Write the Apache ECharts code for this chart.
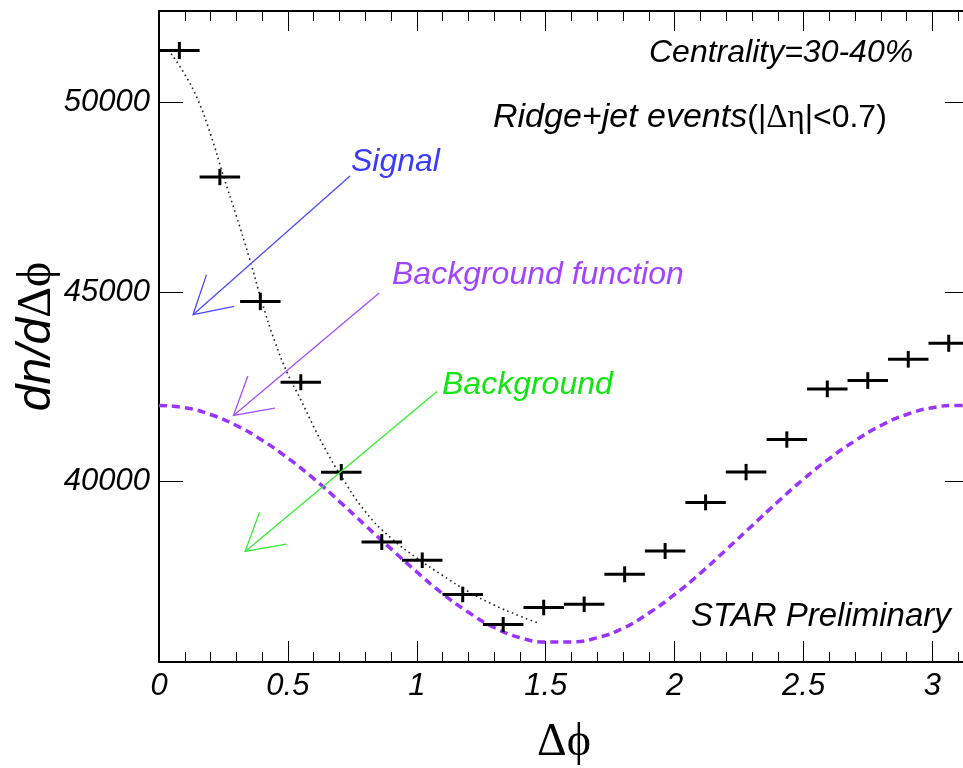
<!DOCTYPE html>
<html><head><meta charset="utf-8">
<script src="https://cdn.jsdelivr.net/npm/echarts@6/dist/echarts.min.js"></script>
<style>html,body{margin:0;padding:0;background:#fff}#c{width:963px;height:768px}</style>
</head><body><div id="c"></div>
<script>
// ---- data ----
const dphi = [0.079, 0.236, 0.393, 0.550, 0.707, 0.864, 1.021, 1.178, 1.335, 1.492,
              1.649, 1.806, 1.963, 2.120, 2.277, 2.435, 2.592, 2.749, 2.906, 3.063];
const dndphi = [51360, 48025, 44750, 42620, 40250, 38410, 37930, 37030, 36235, 36685,
                36770, 37560, 38175, 39455, 40253, 41110, 42445, 42665, 43225, 43647];
const dndphiErr = [225, 215, 230, 210, 215, 210, 205, 205, 200, 205,
                   205, 210, 210, 210, 215, 215, 220, 220, 220, 225];
const binHalfWidth = 0.0785;

const signalX = [0.047, 0.10, 0.15, 0.20, 0.25, 0.30, 0.35, 0.40, 0.45, 0.50, 0.55,
                 0.60, 0.65, 0.70, 0.80, 0.90, 1.00, 1.10, 1.20, 1.30, 1.40, 1.478];
const signalY = [51275, 50730, 50070, 49150, 48050, 47000, 45900, 44720, 43680, 42830, 42160,
                 41450, 40800, 40220, 39215, 38515, 37990, 37530, 37105, 36750, 36460, 36259];

const bgFuncX = [0, 0.1, 0.2, 0.3, 0.4, 0.5, 0.6, 0.7, 0.8, 0.9, 1.0, 1.1, 1.2, 1.3, 1.4, 1.5,
                 1.6, 1.7, 1.8, 1.9, 2.0, 2.1, 2.2, 2.3, 2.4, 2.5, 2.6, 2.7, 2.8, 2.9, 3.0, 3.1, 3.1416];
const bgFuncY = [42010, 41950, 41770, 41480, 41090, 40620, 40080, 39480, 38850, 38230, 37620,
                 37050, 36560, 36160, 35890, 35780, 35780, 35890, 36140, 36540, 37030, 37590,
                 38210, 38840, 39470, 40070, 40610, 41080, 41480, 41770, 41950, 42010, 42010];

const xMin = 0, xMax = 3.1416;
const yMin = 35250, yMax = 52400;
const xTickLabels = [0, 0.5, 1, 1.5, 2, 2.5, 3];
const yTickLabels = [40000, 45000, 50000];

// arrows: [tailX, tailY, tipX, tipY]
const arrowNames = ['Signal', 'Background function', 'Background'];
const arrowTail = [[0.741, 48051], [0.854, 44968], [1.078, 42379]];
const arrowTip  = [[0.132, 44399], [0.289, 41747], [0.334, 38164]];
const arrowColors = ['#4a4aff', '#a64dff', '#33ee33'];

// ---- chart ----
const chart = echarts.init(document.getElementById('c'), null, {renderer: 'canvas'});
const SANS = 'Liberation Sans, Arial, sans-serif';
const SERIF = 'Liberation Serif, DejaVu Serif, Times New Roman, serif';

function xAxisCfg(pos) {
  const bottom = pos === 'bottom';
  return {
    type: 'value', position: pos, min: xMin, max: xMax, interval: 0.5,
    axisLine: {show: true, onZero: false, lineStyle: {color: '#000', width: 2}},
    axisTick: {show: true, inside: true, length: bottom ? 21 : 20, customValues: xTickLabels,
               lineStyle: {color: '#000', width: 1}},
    minorTick: {show: true, splitNumber: 5, length: 10, lineStyle: {color: '#000', width: 1}},
    axisLabel: {show: bottom, customValues: xTickLabels, margin: 9, fontSize: 31, fontStyle: 'italic',
                fontFamily: SANS, color: '#000', formatter: v => String(v)},
    splitLine: {show: false}, minorSplitLine: {show: false},
    name: bottom ? 'Δϕ' : '', nameLocation: 'middle', nameGap: 58, nameMoveOverlap: false,
    nameTextStyle: {fontFamily: SERIF, fontSize: 46, color: '#000'}
  };
}
function yAxisCfg(pos) {
  const left = pos === 'left';
  return {
    type: 'value', position: pos, min: yMin, max: yMax,
    axisLine: {show: true, onZero: false, lineStyle: {color: '#000', width: 2}},
    axisTick: {show: true, inside: true, length: 24, customValues: yTickLabels,
               lineStyle: {color: '#000', width: 1}},
    axisLabel: {show: left, customValues: yTickLabels, margin: 9, fontSize: 31, fontStyle: 'italic',
                fontFamily: SANS, color: '#000', formatter: v => String(v)},
    splitLine: {show: false},
    name: left ? '{a|dn/d}{b|Δϕ}' : '', nameLocation: 'middle', nameRotate: 90, nameGap: 98,
    nameMoveOverlap: false,
    nameTextStyle: {rich: {
      a: {fontFamily: SANS, fontStyle: 'italic', fontSize: 48, color: '#000'},
      b: {fontFamily: SERIF, fontSize: 48, color: '#000'}
    }}
  };
}

const crossData = dphi.map((x, i) => [x, dndphi[i], dndphiErr[i]]);
const arrowData = arrowTail.map((t, i) => [t[0], t[1], arrowTip[i][0], arrowTip[i][1]]);

const option = {
  animation: false,
  backgroundColor: '#fff',
  grid: {left: 159, top: 11, width: 810, height: 651, containLabel: false, outerBoundsMode: 'none'},
  xAxis: [xAxisCfg('bottom'), xAxisCfg('top')],
  yAxis: [yAxisCfg('left'), yAxisCfg('right')],
  series: [
    {
      name: 'Background function', type: 'line', xAxisIndex: 0, yAxisIndex: 0,
      data: bgFuncX.map((x, i) => [x, bgFuncY[i]]), smooth: true, symbol: 'none',
      lineStyle: {color: '#9933ff', width: 3.5, type: [8, 5]}, z: 2
    },
    {
      name: 'Signal', type: 'line', xAxisIndex: 0, yAxisIndex: 0,
      data: signalX.map((x, i) => [x, signalY[i]]), smooth: true, symbol: 'none',
      lineStyle: {color: '#222', width: 1.6, type: [1.6, 3.4]}, z: 3
    },
    {
      name: 'Data', type: 'custom', xAxisIndex: 0, yAxisIndex: 0, data: crossData, z: 5,
      renderItem(params, api) {
        const x = api.value(0), y = api.value(1), e = api.value(2);
        const l = api.coord([x - binHalfWidth, y]), r = api.coord([x + binHalfWidth, y]);
        const t = api.coord([x, y + e]), b = api.coord([x, y - e]);
        const st = {stroke: '#000', lineWidth: 3};
        return {type: 'group', children: [
          {type: 'line', shape: {x1: l[0], y1: l[1], x2: r[0], y2: r[1]}, style: st},
          {type: 'line', shape: {x1: t[0], y1: t[1], x2: b[0], y2: b[1]}, style: st}
        ]};
      }
    },
    {
      name: 'Arrows', type: 'custom', xAxisIndex: 0, yAxisIndex: 0, data: arrowData, z: 6,
      renderItem(params, api) {
        const tail = api.coord([api.value(0), api.value(1)]);
        const tip = api.coord([api.value(2), api.value(3)]);
        const ang = Math.atan2(tail[1] - tip[1], tail[0] - tip[0]);
        const L = 42, a = Math.PI / 6;
        const h1 = [tip[0] + L * Math.cos(ang + a), tip[1] + L * Math.sin(ang + a)];
        const h2 = [tip[0] + L * Math.cos(ang - a), tip[1] + L * Math.sin(ang - a)];
        const st = {stroke: arrowColors[params.dataIndex], lineWidth: 1.3, fill: null};
        return {type: 'group', children: [
          {type: 'line', shape: {x1: tail[0], y1: tail[1], x2: tip[0], y2: tip[1]}, style: st},
          {type: 'polyline', shape: {points: [h1, tip, h2]}, style: st}
        ]};
      }
    }
  ],
  graphic: [
    {type: 'text', x: 649, y: 53, style: {text: 'Centrality=30-40%', fontSize: 32, fontStyle: 'italic',
      fontFamily: SANS, fill: '#000', verticalAlign: 'middle'}},
    {type: 'text', x: 493, y: 118, style: {
      text: '{i|Ridge+jet events}{n|(|}{g|Δη}{n||<0.7)}', verticalAlign: 'middle',
      rich: {
        i: {fontSize: 34, fontStyle: 'italic', fontFamily: SANS, fill: '#000'},
        n: {fontSize: 32, fontFamily: SANS, fill: '#000'},
        g: {fontSize: 33, fontFamily: SERIF, fill: '#000'}
      }}},
    {type: 'text', x: 351, y: 162, style: {text: arrowNames[0], fontSize: 32, fontStyle: 'italic',
      fontFamily: SANS, fill: '#3a3aff', verticalAlign: 'middle'}},
    {type: 'text', x: 392, y: 275, style: {text: arrowNames[1], fontSize: 32, fontStyle: 'italic',
      fontFamily: SANS, fill: '#a044ff', verticalAlign: 'middle'}},
    {type: 'text', x: 442, y: 385, style: {text: arrowNames[2], fontSize: 32, fontStyle: 'italic',
      fontFamily: SANS, fill: '#11e611', verticalAlign: 'middle'}},
    {type: 'text', x: 691, y: 617, style: {text: 'STAR Preliminary', fontSize: 33, fontStyle: 'italic',
      fontFamily: SANS, fill: '#000', verticalAlign: 'middle'}}
  ]
};
chart.setOption(option);
</script>
</body></html>
